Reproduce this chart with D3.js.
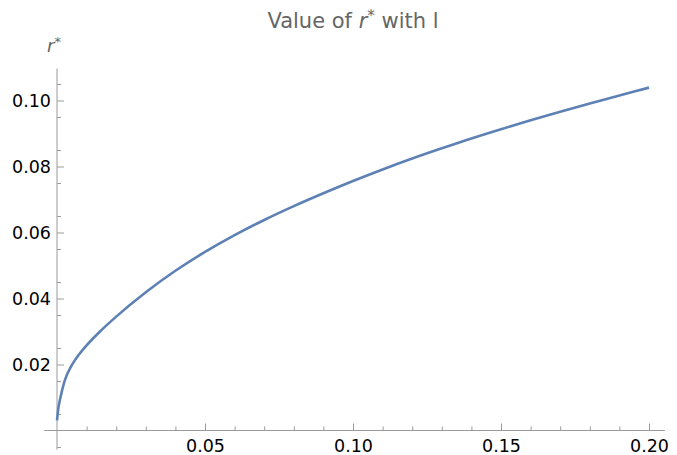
<!DOCTYPE html>
<html>
<head>
<meta charset="utf-8">
<script src="https://cdn.jsdelivr.net/npm/d3@7"></script>
<style>
  body { margin: 0; background: #fff; }
  svg { display: block; }
</style>
</head>
<body>
<div id="chart"></div>
<script>
// values
const lValues = [0, 0.0005, 0.001, 0.0025, 0.005, 0.0075, 0.01, 0.015, 0.02, 0.03, 0.04,
    0.05, 0.06, 0.07, 0.08, 0.09, 0.10, 0.11, 0.12, 0.13, 0.14,
    0.15, 0.16, 0.17, 0.18, 0.19, 0.20];
const rValues = [0.0031, 0.0070, 0.0093, 0.0148, 0.0198, 0.0231, 0.0258, 0.0304, 0.0345, 0.0419, 0.0484,
    0.0541, 0.0592, 0.0638, 0.0680, 0.0719, 0.0756, 0.0791, 0.0824, 0.0855, 0.0885,
    0.0913, 0.0940, 0.0966, 0.0991, 0.1015, 0.1039];

const xMajor = [0.05, 0.10, 0.15, 0.20];
const xMinor = [0.01, 0.02, 0.03, 0.04, 0.06, 0.07, 0.08, 0.09, 0.11, 0.12, 0.13, 0.14, 0.16, 0.17, 0.18, 0.19];
const yMajor = [0.02, 0.04, 0.06, 0.08, 0.10];
const yMinor = [-0.005, 0.005, 0.015, 0.025, 0.035, 0.045, 0.055, 0.065, 0.075, 0.085, 0.095, 0.105];

const xExtent = [-0.0043, 0.2054];
const yExtent = [-0.0058, 0.1097];

const width = 677;
const height = 455;
const axisColor = '#9a9a9a';
const lineColor = '#5e81b5';
const labelColor = '#666666';

const svg = d3.select('#chart')
    .append('svg')
    .attr('width', width)
    .attr('height', height)
    .attr('viewBox', [0, 0, width, height]);

const x = d3.scaleLinear().domain([0, 0.2]).range([57, 649]);
const y = d3.scaleLinear().domain([0, 0.1]).range([430.5, 100.5]);

// axis lines spanning the plot range
svg.append('line')
    .attr('x1', x(xExtent[0])).attr('x2', x(xExtent[1]))
    .attr('y1', y(0)).attr('y2', y(0))
    .style('stroke', axisColor).style('stroke-width', 1);
svg.append('line')
    .attr('x1', x(0)).attr('x2', x(0))
    .attr('y1', y(yExtent[0])).attr('y2', y(yExtent[1]))
    .style('stroke', axisColor).style('stroke-width', 1);

// x axis: ticks point up into the plot, labels below
const xAxisMinor = d3.axisBottom(x).tickValues(xMinor).tickSize(-4).tickFormat('');
const xAxisMajor = d3.axisBottom(x).tickValues(xMajor).tickSize(-7).tickPadding(9).tickFormat(d3.format('.2f'));

svg.append('g').attr('transform', `translate(0,${ y(0) })`).call(xAxisMinor)
    .call((g) => g.select('.domain').remove());
svg.append('g').attr('class', 'x-major').attr('transform', `translate(0,${ y(0) })`).call(xAxisMajor)
    .call((g) => g.select('.domain').remove());

// y axis: ticks point right into the plot, labels on the left
const yAxisMinor = d3.axisLeft(y).tickValues(yMinor).tickSize(-4).tickFormat('');
const yAxisMajor = d3.axisLeft(y).tickValues(yMajor).tickSize(-7).tickPadding(6).tickFormat(d3.format('.2f'));

svg.append('g').attr('transform', `translate(${ x(0) },0)`).call(yAxisMinor)
    .call((g) => g.select('.domain').remove());
svg.append('g').attr('class', 'y-major').attr('transform', `translate(${ x(0) },0)`).call(yAxisMajor)
    .call((g) => g.select('.domain').remove());

svg.selectAll('.tick line').style('stroke', axisColor);
svg.selectAll('.tick text')
    .style('font-family', 'DejaVu Sans, sans-serif')
    .style('font-size', '17.5px')
    .style('fill', '#000');

// the curve
const line = d3.line()
    .x((d, i) => x(lValues[i]))
    .y((d) => y(d))
    .curve(d3.curveMonotoneX);

svg.append('path')
    .datum(rValues)
    .attr('d', line)
    .style('fill', 'none')
    .style('stroke', lineColor)
    .style('stroke-width', 2.6);

// title
const title = svg.append('text')
    .attr('x', 353)
    .attr('y', 28)
    .attr('text-anchor', 'middle')
    .style('font-family', 'DejaVu Sans, sans-serif')
    .style('font-size', '21px')
    .style('fill', labelColor);
title.append('tspan').text('Value of ');
title.append('tspan').style('font-style', 'italic').text('r');
title.append('tspan').attr('dy', -7).style('font-size', '15px').text('*');
title.append('tspan').attr('dy', 7).text(' with l');

// y axis label
const yLabel = svg.append('text')
    .attr('x', 47)
    .attr('y', 52)
    .style('font-family', 'DejaVu Sans, sans-serif')
    .style('font-size', '18px')
    .style('fill', labelColor);
yLabel.append('tspan').style('font-style', 'italic').text('r');
yLabel.append('tspan').attr('dy', -6).style('font-size', '13px').text('*');
</script>
</body>
</html>
